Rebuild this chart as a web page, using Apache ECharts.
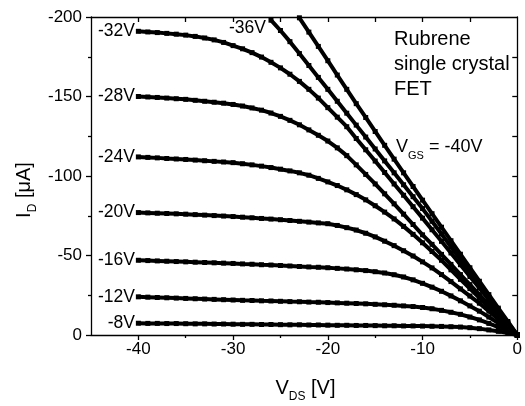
<!DOCTYPE html>
<html><head><meta charset="utf-8">
<script src="https://cdn.jsdelivr.net/npm/echarts@6/dist/echarts.min.js"></script>
<style>html,body{margin:0;padding:0;background:#fff}#c{width:525px;height:406px}</style>
</head><body><div id="c"></div>
<script>
var vds = [-40,-39,-38,-37,-36,-35,-34,-33,-32,-31,-30,-29,-28,-27,-26,-25,-24,-23,-22,-21,-20,-19,-18,-17,-16,-15,-14,-13,-12,-11,-10,-9,-8,-7,-6,-5,-4,-3,-2,-1,0];
var vgsNames = ['-8V','-12V','-16V','-20V','-24V','-28V','-32V','-36V','-40V'];
var id8  = [7.4,7.3,7.3,7.2,7.2,7.1,7.0,7.0,6.9,6.9,6.8,6.7,6.7,6.6,6.6,6.5,6.4,6.4,6.3,6.3,6.2,6.1,6.1,6.0,6.0,5.9,5.8,5.8,5.7,5.7,5.6,5.5,5.4,5.2,5.0,4.6,4.0,3.2,2.3,1.2,0];
var id12 = [24,23.8,23.6,23.4,23.2,23.0,22.8,22.6,22.4,22.2,22.0,21.8,21.7,21.5,21.4,21.2,21.0,20.9,20.7,20.6,20.4,20.2,20.0,19.8,19.6,19.3,19.0,18.7,18.3,17.9,17.3,16.5,15.5,14.3,13.0,11.3,9.5,7.3,5.0,2.5,0];
var id16 = [47,46.8,46.6,46.4,46.2,46.0,45.8,45.6,45.4,45.2,45.0,44.7,44.5,44.2,44.0,43.7,43.4,43.1,42.8,42.6,42.3,41.9,41.5,41.0,40.5,39.8,39.0,37.9,36.5,34.7,32.5,30.1,27.5,24.6,21.5,18.3,15.0,11.3,7.5,3.8,0];
var id20 = [77,76.8,76.6,76.4,76.2,76.0,75.7,75.4,75.1,74.8,74.5,74.1,73.7,73.3,72.9,72.5,72.0,71.5,71.0,70.5,70.0,68.9,67.5,66.0,64.0,61.7,59.0,56.2,53.0,49.7,46.0,42.2,38.0,33.6,29.0,24.5,20.0,15.0,10.0,5.0,0];
var id24 = [112,111.7,111.4,111.0,110.7,110.4,110.0,109.6,109.2,108.8,108.4,107.7,107.0,106.2,105.3,104.3,103.2,102.0,100.5,98.5,96.3,94.0,91.3,88.3,85.0,81.3,77.3,73.0,68.3,63.3,58.0,52.5,47.0,41.0,35.0,29.2,23.3,17.4,11.6,5.8,0];
var id28 = [150,149.7,149.4,149.0,148.6,148.2,147.6,147.0,146.4,145.8,145.0,144.0,142.8,141.4,139.6,137.5,135.0,132.2,129.0,125.6,122.0,117.7,112.8,107.0,101.0,95.0,88.8,82.5,76.0,69.5,63.0,57.0,50.7,44.4,38.0,31.7,25.4,19.0,12.7,6.3,0];
var id32 = [191,190.6,190.2,189.7,189.2,188.6,187.8,186.8,185.6,184.0,182.0,180.0,177.6,174.8,171.5,168.0,164.0,159.5,154.5,149.0,143.0,137.0,131.0,123.6,116.5,109.4,102.2,95.0,87.9,80.7,73.5,66.2,58.9,51.6,44.2,36.8,29.5,22.1,14.7,7.4,0];
var id36 = [null,null,null,null,null,null,null,null,null,null,null,null,null,null,198,191.5,184.5,177,169.5,162,154.5,147,139.5,132,124.5,117,109.5,102,94.5,87,79.5,71.5,63.5,55.5,47.5,39.6,31.7,23.8,15.9,7.9,0];
var id40 = [null,null,null,null,null,null,null,null,null,null,null,null,null,null,null,null,null,199.5,190.5,181.5,172.5,163.5,154.5,145.5,136.8,128,119.3,110.6,102,93.4,84.8,76.3,67.8,59.3,50.8,42.3,33.8,25.4,16.9,8.5,0];
var curves = [id8,id12,id16,id20,id24,id28,id32,id36,id40];
var xMajor = [-40,-30,-20,-10,0];
var xMinor = [-35,-25,-15,-5];
var xTop = [-40,-35,-30,-25,-20,-15,-10,-5];
var yMajor = [-200,-150,-100,-50,0];
var yMinor = [-175,-125,-75,-25];
var yRight = [-175,-150,-125,-100,-75,-50,-25];

var FONT = 'Liberation Sans';
var chart = echarts.init(document.getElementById('c'), null, {renderer:'canvas'});
var series = curves.map(function(arr, k){
  var data = [];
  var first = true;
  for (var i=0;i<vds.length;i++){
    if (arr[i]===null) continue;
    var item = {value:[vds[i], -arr[i]]};
    if (first && k < 7) {
      item.label = {show:true, position:'left', distance:1, formatter: vgsNames[k], color:'#000', fontSize:17.5, fontFamily:FONT};
    }
    first = false;
    data.push(item);
  }
  return {
    type:'line', name: vgsNames[k], data:data, xAxisIndex:0, yAxisIndex:0,
    symbol:'rect', symbolSize:5, showAllSymbol:true, clip:true,
    lineStyle:{color:'#000', width:4}, itemStyle:{color:'#000'},
    label:{show:false}, emphasis:{disabled:true}, animation:false
  };
});
var axLine = {show:true, onZero:false, lineStyle:{color:'#000', width:1.3}};
var noLine = {show:false, onZero:false};
var tickStyle = {color:'#000', width:1.3};
chart.setOption({
  animation:false,
  grid:{left:91, right:5, top:17, bottom:71, containLabel:false},
  xAxis:[
    {type:'value', min:-45, max:0, position:'bottom', axisLine:axLine,
     axisTick:{show:true, inside:false, length:5, customValues:xMajor, lineStyle:tickStyle},
     axisLabel:{show:true, customValues:xMajor, color:'#000', fontSize:17, fontFamily:FONT, margin:6},
     splitLine:{show:false}},
    {type:'value', min:-45, max:0, position:'bottom', axisLine:noLine,
     axisTick:{show:true, inside:false, length:3, customValues:xMinor, lineStyle:tickStyle},
     axisLabel:{show:false}, splitLine:{show:false}},
    {type:'value', min:-45, max:0, position:'top', axisLine:axLine,
     axisTick:{show:true, inside:true, length:5, customValues:xTop, lineStyle:tickStyle},
     axisLabel:{show:false}, splitLine:{show:false}}
  ],
  yAxis:[
    {type:'value', min:-200, max:0, inverse:true, position:'left', axisLine:axLine,
     axisTick:{show:true, inside:false, length:5, customValues:yMajor, lineStyle:tickStyle},
     axisLabel:{show:true, customValues:yMajor, color:'#000', fontSize:17, fontFamily:FONT, margin:9},
     splitLine:{show:false}},
    {type:'value', min:-200, max:0, inverse:true, position:'left', axisLine:noLine,
     axisTick:{show:true, inside:false, length:3, customValues:yMinor, lineStyle:tickStyle},
     axisLabel:{show:false}, splitLine:{show:false}},
    {type:'value', min:-200, max:0, inverse:true, position:'right', axisLine:axLine,
     axisTick:{show:true, inside:true, length:5, customValues:yRight, lineStyle:tickStyle},
     axisLabel:{show:false}, splitLine:{show:false}}
  ],
  series: series,
  graphic:[
    {type:'text', left:229, top:19, style:{text:'-36V', fill:'#000', font:'17.5px "Liberation Sans"'}},
    {type:'text', left:394, top:29, style:{text:'Rubrene', fill:'#000', font:'20px "Liberation Sans"'}},
    {type:'text', left:394, top:54, style:{text:'single crystal', fill:'#000', font:'20px "Liberation Sans"'}},
    {type:'text', left:394, top:79, style:{text:'FET', fill:'#000', font:'20px "Liberation Sans"'}},
    {type:'text', left:396, top:138, style:{text:'{a|V}{s|GS}{a| = -40V}', rich:{
      a:{fontSize:18, fontFamily:FONT, fill:'#000', lineHeight:22, verticalAlign:'bottom'},
      s:{fontSize:11, fontFamily:FONT, fill:'#000', lineHeight:22, verticalAlign:'bottom', padding:[0,0,-5,0]}}}},
    {type:'text', x:305.5, y:386, style:{text:'{a|V}{s|DS}{a| [V]}', align:'center', verticalAlign:'middle', rich:{
      a:{fontSize:20, fontFamily:FONT, fill:'#000', lineHeight:24, verticalAlign:'bottom'},
      s:{fontSize:12, fontFamily:FONT, fill:'#000', lineHeight:24, verticalAlign:'bottom', padding:[0,0,-5,0]}}}},
    {type:'text', x:22, y:190, rotation:Math.PI/2, style:{text:'{a|I}{s|D}{a| [\u03bcA]}', align:'center', verticalAlign:'middle', rich:{
      a:{fontSize:20, fontFamily:FONT, fill:'#000', lineHeight:24, verticalAlign:'bottom'},
      s:{fontSize:12, fontFamily:FONT, fill:'#000', lineHeight:24, verticalAlign:'bottom', padding:[0,0,-5,0]}}}}
  ]
});
</script></body></html>
